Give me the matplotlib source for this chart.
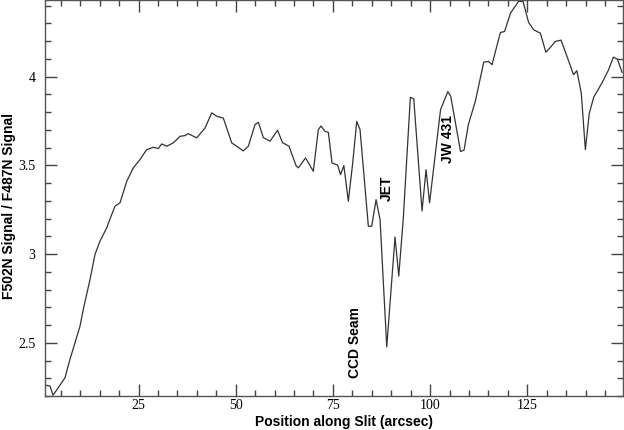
#!/usr/bin/env python3
import matplotlib.pyplot
from matplotlib.ticker import MultipleLocator, FuncFormatter

# Ratio profile along the slit
position = [1.39, 2.24, 3.01, 4.37, 6.10, 7.38, 9.96, 10.80, 12.53, 13.81,
  15.10, 16.82, 18.11, 18.96, 20.24, 21.97, 23.66, 25.39, 27.11, 28.81,
  30.09, 30.97, 32.26, 33.95, 35.68, 36.96, 37.81, 39.97, 42.11, 43.83,
  45.12, 46.81, 48.97, 51.96, 53.24, 54.97, 55.82, 57.10, 58.82, 60.75,
  62.04, 63.71, 65.51, 66.10, 67.96, 69.96, 71.25, 71.94, 72.97, 73.82,
  74.77, 76.19, 76.96, 77.81, 78.96, 80.09, 81.12, 81.97, 84.11, 84.98,
  86.09, 87.12, 88.84, 90.97, 91.93, 93.11, 94.91, 95.78, 97.92, 98.95,
  99.85, 102.68, 104.55, 105.30, 107.82, 108.72, 109.83, 111.63, 113.79,
  115.02, 115.92, 118.06, 119.14, 120.68, 122.74, 123.90, 125.31, 126.60,
  128.35, 129.76, 130.84, 132.20, 133.67, 135.60, 136.88, 137.73, 138.87,
  139.92, 140.92, 142.08, 144.22, 145.89, 147.12, 148.15, 149.36]
ratio = [2.260, 2.256, 2.204, 2.247, 2.303, 2.407, 2.594, 2.688, 2.857, 2.998,
  3.073, 3.148, 3.223, 3.270, 3.289, 3.410, 3.486, 3.533, 3.589, 3.602,
  3.595, 3.621, 3.608, 3.627, 3.664, 3.668, 3.679, 3.655, 3.711, 3.796,
  3.777, 3.767, 3.627, 3.582, 3.608, 3.730, 3.743, 3.657, 3.636, 3.698,
  3.628, 3.608, 3.499, 3.486, 3.542, 3.467, 3.702, 3.722, 3.692, 3.686,
  3.514, 3.502, 3.448, 3.499, 3.298, 3.514, 3.748, 3.702, 3.157, 3.157,
  3.307, 3.195, 2.477, 3.096, 2.876, 3.206, 3.883, 3.876, 3.243, 3.476,
  3.289, 3.814, 3.916, 3.889, 3.578, 3.586, 3.730, 3.862, 4.082,
  4.086, 4.068, 4.249, 4.255, 4.359, 4.425, 4.424, 4.307, 4.265,
  4.245, 4.138, 4.163, 4.199, 4.206, 4.090, 4.011, 4.034, 3.908,
  3.589, 3.792, 3.885, 3.966, 4.039, 4.110, 4.099, 4.025]

# Feature labels (text, x, y)
labels = ['CCD Seam', 'JET', 'JW 431']
label_x = [80.8, 88.8, 104.5]
label_y = [2.50, 3.37, 3.65]

fig = matplotlib.pyplot.figure(figsize=(6.24, 4.30), dpi=100)
ax = fig.add_axes([0.0721, 0.0791, 0.9263, 0.9199])

ax.plot(position, ratio, color='#333333', linewidth=0.9)

for text, x, y in zip(labels, label_x, label_y):
  ax.text(x, y, text, rotation=90, ha='center', va='center',
    fontsize=10, fontweight='bold', family='Liberation Sans')

ax.set_xlim(0.95, 149.6)
ax.set_ylim(2.2, 4.43)

ax.xaxis.set_major_locator(MultipleLocator(25))
ax.xaxis.set_minor_locator(MultipleLocator(5))
ax.yaxis.set_major_locator(MultipleLocator(0.5))
ax.yaxis.set_minor_locator(MultipleLocator(0.1))
ax.yaxis.set_major_formatter(FuncFormatter(lambda v, pos: '%g' % v))

ax.tick_params(which='both', direction='in', top=True, right=True,
  color='#444444', width=1.0)
ax.tick_params(which='major', length=8.5, pad=2.5)
ax.tick_params(which='minor', length=4.5)
ax.tick_params(axis='y', which='major', pad=7)
for lab in ax.get_xticklabels() + ax.get_yticklabels():
  lab.set_family('Liberation Serif')
  lab.set_fontsize(10)

for spine in ax.spines.values():
  spine.set_color('#555555')
  spine.set_linewidth(1.0)

ax.set_xlabel('Position along Slit (arcsec)', fontsize=10, fontweight='bold',
  family='Liberation Sans')
ax.set_ylabel('F502N Signal / F487N Signal', fontsize=10, fontweight='bold',
  family='Liberation Sans')
ax.xaxis.set_label_coords(0.517, -0.047)
ax.yaxis.set_label_coords(-0.062, 0.48)
ax.yaxis.label.set_va('center')

matplotlib.pyplot.savefig('out.png', dpi=100)
matplotlib.pyplot.close()
